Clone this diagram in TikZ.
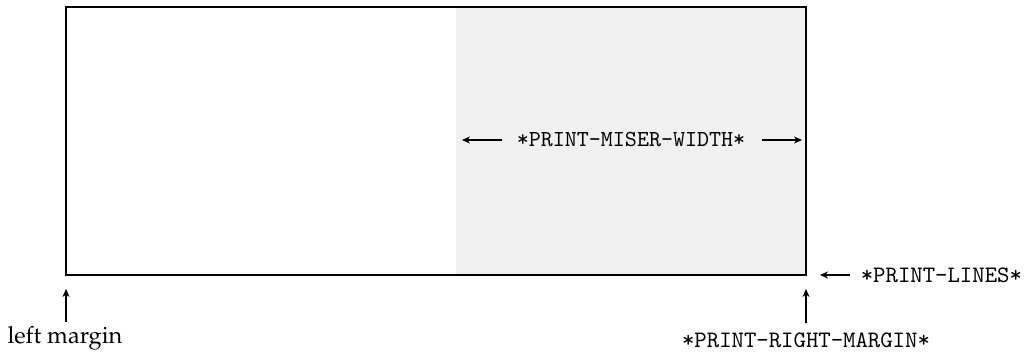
\documentclass[tikz,border=0pt]{standalone}
\usepackage{fontspec}
\newfontfamily\lmmono{Latin Modern Mono}
\usepackage[T1]{fontenc}
\usepackage{mathpazo}
\usetikzlibrary{arrows.meta}
\begin{document}
\begin{tikzpicture}[x=0.4237pt,y=-0.4237pt,
  frame/.style={draw, line width=0.5pt},
  miser/.style={fill=black!6, draw=none},
  lbl/.style={font=\lmmono, inner sep=1pt},
  rmlbl/.style={font=\rmfamily, inner sep=1pt},
  ptr/.style={-{Stealth[length=3.4pt,width=3pt,inset=1.1pt]}, line width=0.45pt}]
\useasboundingbox (0,0) rectangle (1027,355);
\fill[miser] (456,7) rectangle (806,275);
\draw[frame] (66,7) rectangle (806,275);
% miser width
\node[lbl, font=\lmmono\fontsize{9.7pt}{11pt}\selectfont] (mw) at (631,140) {*PRINT-MISER-WIDTH*};
\coordinate (mwL) at (462,140);
\coordinate (mwR) at (802,140);
\coordinate (mwl0) at (502,140);
\coordinate (mwr0) at (762,140);
\draw[ptr] (mwl0) -- (mwL);
\draw[ptr] (mwr0) -- (mwR);
% print lines
\node[lbl, anchor=west] (pl) at (858,275) {*PRINT-LINES*};
\coordinate (plT) at (820,275);
\draw[ptr] (pl.west) ++(-8,0) -- (plT);
% right margin
\node[lbl] (rm) at (806,340) {*PRINT-RIGHT-MARGIN*};
\coordinate (rmT) at (806,289);
\coordinate (rmB) at (806,323);
\draw[ptr] (rmB) -- (rmT);
% left margin
\node[rmlbl] (lm) at (65,338) {left margin};
\coordinate (lmT) at (66,289);
\coordinate (lmB) at (66,322);
\draw[ptr] (lmB) -- (lmT);
\end{tikzpicture}
\end{document}
